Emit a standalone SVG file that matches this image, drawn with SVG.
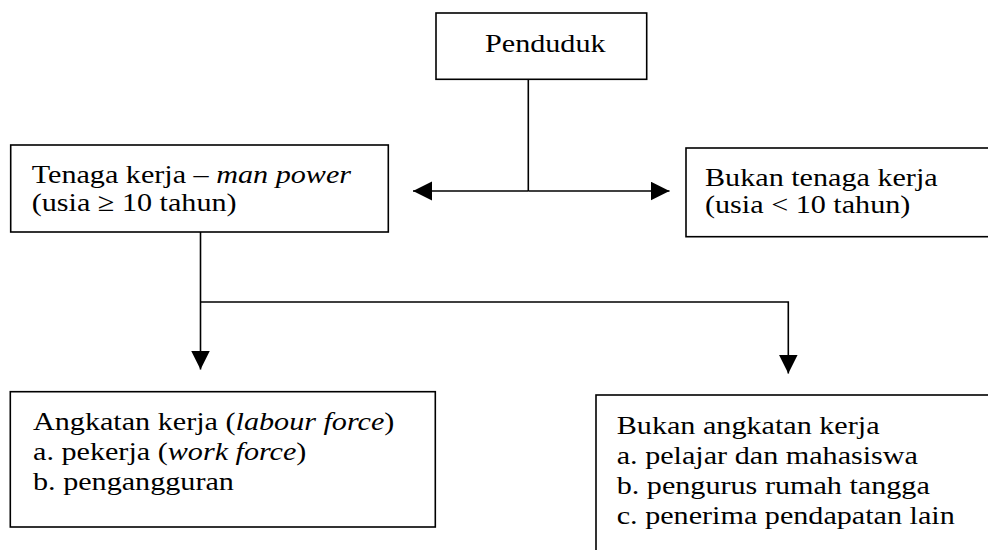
<svg xmlns="http://www.w3.org/2000/svg" width="988" height="550" viewBox="0 0 988 550">
<style>
.box{fill:#fff;stroke:#000;stroke-width:1.6}
.t{font-family:"Liberation Serif","Times New Roman",serif;font-size:26px;fill:#000}
.i{font-style:italic}
.c{fill:none;stroke:#000;stroke-width:1.6}
</style>
<defs>
<marker id="ah" markerUnits="userSpaceOnUse" markerWidth="20" markerHeight="20" refX="19" refY="9.5" orient="auto">
<path d="M0,0 L19,9.5 L0,19 z" fill="#000"/>
</marker>
</defs>
<rect width="988" height="550" fill="#fff"/>
<g id="connectors">
<path class="c" d="M528.3,79 V191"/>
<path class="c" d="M528.3,191 H413" marker-end="url(#ah)"/>
<path class="c" d="M528.3,191 H669.5" marker-end="url(#ah)"/>
<path class="c" d="M200.5,232 V369.5" marker-end="url(#ah)"/>
<path class="c" d="M200.5,302 H788.3 V373.5" marker-end="url(#ah)"/>
</g>
<g id="penduduk">
<rect class="box" x="436" y="13" width="210.7" height="66.3"/>
<text class="t" transform="translate(485,52) scale(1.16,1)">Penduduk</text>
</g>
<g id="tenaga-kerja">
<rect class="box" x="10.7" y="145" width="377.6" height="87"/>
<text class="t" transform="translate(31.7,183) scale(1.16,1)">Tenaga kerja – <tspan class="i">man power</tspan></text>
<text class="t" transform="translate(31.7,211) scale(1.16,1)">(usia ≥ 10 tahun)</text>
</g>
<g id="bukan-tenaga-kerja">
<rect class="box" x="686" y="148" width="320" height="88.7"/>
<text class="t" transform="translate(705,186) scale(1.16,1)">Bukan tenaga kerja</text>
<text class="t" transform="translate(705,213) scale(1.16,1)">(usia &lt; 10 tahun)</text>
</g>
<g id="angkatan-kerja">
<rect class="box" x="10.3" y="391.7" width="425" height="135.3"/>
<text class="t" transform="translate(33,430) scale(1.16,1)">Angkatan kerja (<tspan class="i">labour force</tspan>)</text>
<text class="t" transform="translate(33,460) scale(1.16,1)">a. pekerja (<tspan class="i">work force</tspan>)</text>
<text class="t" transform="translate(33,490) scale(1.16,1)">b. pengangguran</text>
</g>
<g id="bukan-angkatan-kerja">
<rect class="box" x="596" y="395" width="420" height="200"/>
<text class="t" transform="translate(616.7,434) scale(1.16,1)">Bukan angkatan kerja</text>
<text class="t" transform="translate(616.7,464) scale(1.16,1)">a. pelajar dan mahasiswa</text>
<text class="t" transform="translate(616.7,494) scale(1.16,1)">b. pengurus rumah tangga</text>
<text class="t" transform="translate(616.7,524) scale(1.16,1)">c. penerima pendapatan lain</text>
</g>
</svg>
